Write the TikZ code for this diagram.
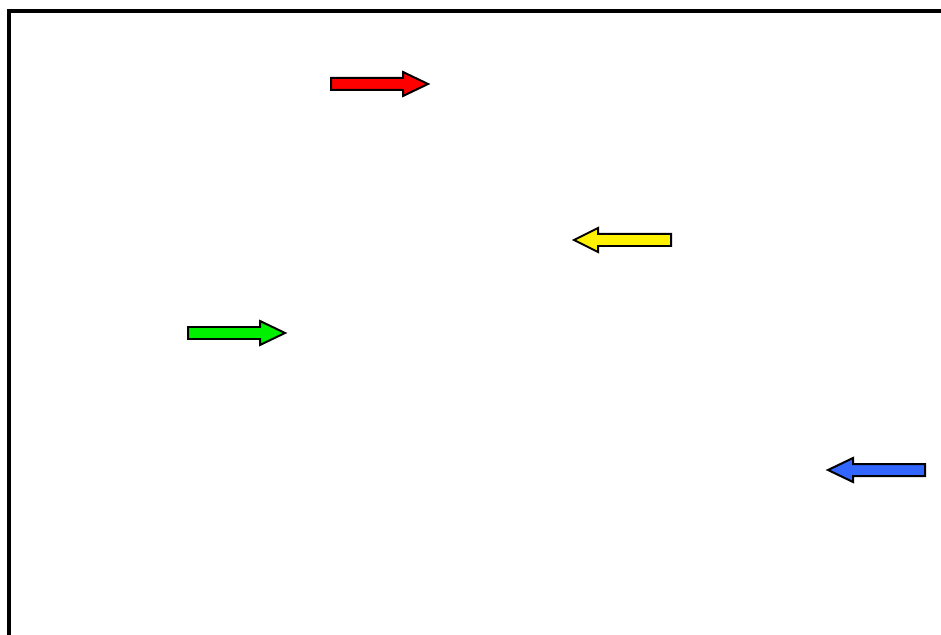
\documentclass[tikz,border=0pt]{standalone}
\usepackage{tikz}
\usetikzlibrary{calc}

\definecolor{arrowblue}{RGB}{51,102,255}
\definecolor{arrowgreen}{RGB}{0,240,0}

\begin{document}
\begin{tikzpicture}[x=0.02cm,y=-0.02cm,
    blockarrow/.style={draw=black,line width=0.04cm,line join=miter}]
  \useasboundingbox (0,0) rectangle (941,635);

  % Frame (only top and left edges show)
  \coordinate (corner) at (9,11);
  \draw[line width=0.08cm] (941,11) -- (corner) -- (9,635);

  % Arrow tails
  \coordinate (redtail) at (331,84);
  \coordinate (yellowtail) at (671,240);
  \coordinate (greentail) at (188,333);
  \coordinate (bluetail) at (925,470);

  % Right-pointing arrows
  \draw[blockarrow,fill=red] (redtail) ++(0,-6) -- ++(72,0) -- ++(0,-6)
    -- ++(25,12) -- ++(-25,12) -- ++(0,-6) -- ++(-72,0) -- cycle;
  \draw[blockarrow,fill=arrowgreen] (greentail) ++(0,-6) -- ++(72,0) -- ++(0,-6)
    -- ++(25,12) -- ++(-25,12) -- ++(0,-6) -- ++(-72,0) -- cycle;

  % Left-pointing arrows
  \draw[blockarrow,fill=yellow] (yellowtail) ++(0,-6) -- ++(-73,0) -- ++(0,-6)
    -- ++(-24,12) -- ++(24,12) -- ++(0,-6) -- ++(73,0) -- cycle;
  \draw[blockarrow,fill=arrowblue] (bluetail) ++(0,-6) -- ++(-72,0) -- ++(0,-6)
    -- ++(-25,12) -- ++(25,12) -- ++(0,-6) -- ++(72,0) -- cycle;
\end{tikzpicture}
\end{document}
